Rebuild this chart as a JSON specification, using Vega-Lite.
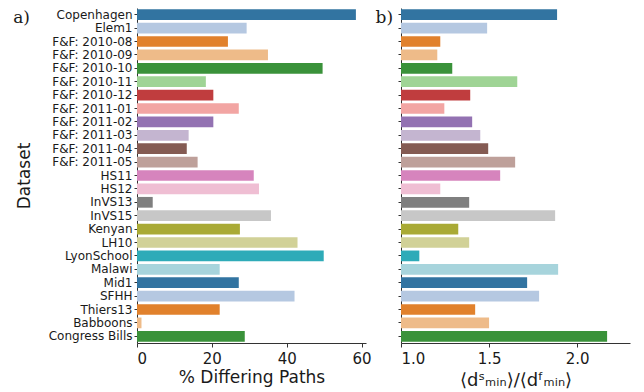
{
  "$schema": "https://vega.github.io/schema/vega-lite/v6.json",
  "padding": {"left": 13, "top": 8, "right": 5, "bottom": 5},
  "data": {"values": [
    {"name": "Copenhagen", "pct": 58.5, "ratio": 1.886},
    {"name": "Elem1", "pct": 29.3, "ratio": 1.489},
    {"name": "F&F: 2010-08", "pct": 24.3, "ratio": 1.223},
    {"name": "F&F: 2010-09", "pct": 35.0, "ratio": 1.206},
    {"name": "F&F: 2010-10", "pct": 49.6, "ratio": 1.291},
    {"name": "F&F: 2010-11", "pct": 18.4, "ratio": 1.660},
    {"name": "F&F: 2010-12", "pct": 20.4, "ratio": 1.393},
    {"name": "F&F: 2011-01", "pct": 27.2, "ratio": 1.246},
    {"name": "F&F: 2011-02", "pct": 20.4, "ratio": 1.404},
    {"name": "F&F: 2011-03", "pct": 13.8, "ratio": 1.450},
    {"name": "F&F: 2011-04", "pct": 13.3, "ratio": 1.495},
    {"name": "F&F: 2011-05", "pct": 16.2, "ratio": 1.648},
    {"name": "HS11", "pct": 31.2, "ratio": 1.563},
    {"name": "HS12", "pct": 32.6, "ratio": 1.223},
    {"name": "InVS13", "pct": 4.2, "ratio": 1.387},
    {"name": "InVS15", "pct": 35.8, "ratio": 1.875},
    {"name": "Kenyan", "pct": 27.5, "ratio": 1.325},
    {"name": "LH10", "pct": 42.9, "ratio": 1.387},
    {"name": "LyonSchool", "pct": 49.9, "ratio": 1.104},
    {"name": "Malawi", "pct": 22.1, "ratio": 1.892},
    {"name": "Mid1", "pct": 27.2, "ratio": 1.716},
    {"name": "SFHH", "pct": 42.1, "ratio": 1.784},
    {"name": "Thiers13", "pct": 22.1, "ratio": 1.421},
    {"name": "Babboons", "pct": 1.2, "ratio": 1.500},
    {"name": "Congress Bills", "pct": 28.8, "ratio": 2.170}
  ]},
  "config": {
    "view": {"stroke": null},
    "font": "DejaVu Sans",
    "axis": {"domainColor": "#333333", "tickColor": "#333333", "labelColor": "#1a1a1a", "titleColor": "#1a1a1a", "grid": false, "labelFontWeight": "normal", "titleFontWeight": "normal"},
    "concat": {"spacing": 3}
  },
  "hconcat": [
    {
      "width": 229,
      "height": 335,
      "title": {"text": "a)", "anchor": "start", "frame": "bounds", "font": "DejaVu Serif", "fontSize": 17, "fontWeight": "normal", "color": "#1a1a1a", "dx": -2, "dy": 19, "offset": 0},
      "mark": {"type": "bar"},
      "encoding": {
        "y": {"field": "name", "type": "nominal", "sort": null, "scale": {"paddingInner": 0.2, "paddingOuter": 0.1},
              "axis": {"title": "Dataset", "labelFontSize": 12, "titleFontSize": 17, "tickSize": 3, "labelPadding": 2, "titlePadding": 15}},
        "x": {"field": "pct", "type": "quantitative", "scale": {"domain": [0, 61.2], "nice": false},
              "axis": {"values": [0, 20, 40, 60], "title": "% Differing Paths", "labelFontSize": 15, "titleFontSize": 17, "tickSize": 4, "labelPadding": 4, "titlePadding": 3}},
        "color": {"field": "name", "type": "nominal", "sort": null,
                  "scale": {"domain": ["Copenhagen","Elem1","F&F: 2010-08","F&F: 2010-09","F&F: 2010-10","F&F: 2010-11","F&F: 2010-12","F&F: 2011-01","F&F: 2011-02","F&F: 2011-03","F&F: 2011-04","F&F: 2011-05","HS11","HS12","InVS13","InVS15","Kenyan","LH10","LyonSchool","Malawi","Mid1","SFHH","Thiers13","Babboons","Congress Bills"],
                            "range": ["#3274a1","#b5c8e1","#e1812c","#eebb89","#3a923a","#9fd495","#c03d3e","#f2a5a3","#9372b2","#c4b5d0","#845b53","#bea09a","#d684bd","#efbed3","#7f7f7f","#c7c7c7","#a9aa35","#d1d197","#2eabb8","#a7d4dc","#3274a1","#b5c8e1","#e1812c","#eebb89","#3a923a"]},
                  "legend": null}
      }
    },
    {
      "width": 229,
      "height": 335,
      "title": {"text": "b)", "anchor": "start", "frame": "bounds", "font": "DejaVu Serif", "fontSize": 17, "fontWeight": "normal", "color": "#1a1a1a", "dx": -22, "dy": 19, "offset": 0},
      "mark": {"type": "bar"},
      "encoding": {
        "y": {"field": "name", "type": "nominal", "sort": null, "scale": {"paddingInner": 0.2, "paddingOuter": 0.1},
              "axis": {"title": null, "labels": false, "tickSize": 3}},
        "x": {"field": "ratio", "type": "quantitative", "scale": {"domain": [1, 2.3], "nice": false, "zero": false},
              "axis": {"values": [1.0, 1.5, 2.0], "format": ".1f", "title": "⟨dˢₘᵢₙ⟩/⟨dᶠₘᵢₙ⟩", "labelFontSize": 15, "titleFontSize": 18, "tickSize": 4, "labelPadding": 4, "titlePadding": 5}},
        "x2": {"datum": 1},
        "color": {"field": "name", "type": "nominal", "sort": null,
                  "scale": {"domain": ["Copenhagen","Elem1","F&F: 2010-08","F&F: 2010-09","F&F: 2010-10","F&F: 2010-11","F&F: 2010-12","F&F: 2011-01","F&F: 2011-02","F&F: 2011-03","F&F: 2011-04","F&F: 2011-05","HS11","HS12","InVS13","InVS15","Kenyan","LH10","LyonSchool","Malawi","Mid1","SFHH","Thiers13","Babboons","Congress Bills"],
                            "range": ["#3274a1","#b5c8e1","#e1812c","#eebb89","#3a923a","#9fd495","#c03d3e","#f2a5a3","#9372b2","#c4b5d0","#845b53","#bea09a","#d684bd","#efbed3","#7f7f7f","#c7c7c7","#a9aa35","#d1d197","#2eabb8","#a7d4dc","#3274a1","#b5c8e1","#e1812c","#eebb89","#3a923a"]},
                  "legend": null}
      }
    }
  ]
}
